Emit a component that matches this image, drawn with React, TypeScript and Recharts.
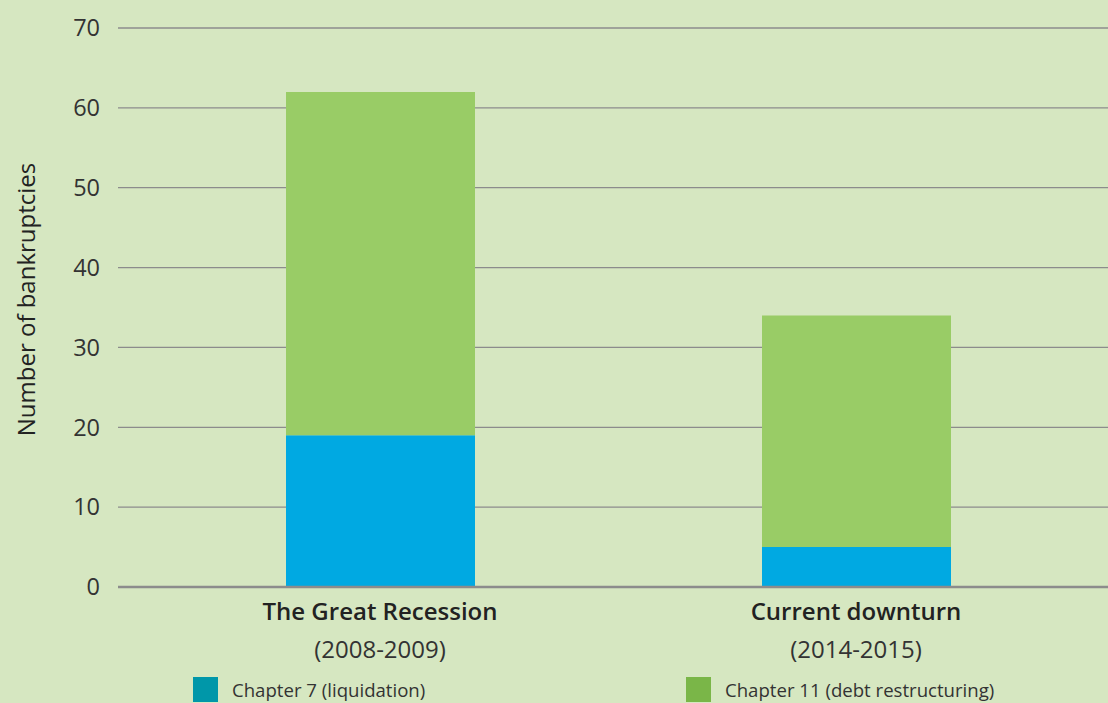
import React from 'react';
import { BarChart, Bar, XAxis, YAxis, CartesianGrid, Legend, Label } from 'recharts';

const categories = ['The Great Recession', 'Current downturn'];
const periods = ['(2008-2009)', '(2014-2015)'];
const chapter7 = [19, 5];
const chapter11 = [43, 29];
const yTicks = [0, 10, 20, 30, 40, 50, 60, 70];
const seriesKeys = ['ch7', 'ch11'];
const seriesNames = ['Chapter 7 (liquidation)', 'Chapter 11 (debt restructuring)'];

const BG = '#d6e7c1';
const BAR_COLORS = ['#00a9e2', '#99cc66'];
const LEGEND_COLORS = ['#0097a9', '#7ab648']; // swatches are darker than the bars
const FONT = '"Open Sans", sans-serif';

const data = categories.map((name, i) => ({
  name,
  ch7: chapter7[i],
  ch11: chapter11[i],
}));

const CategoryTick = (props: any) => {
  const { x, y, payload, index } = props;
  return (
    <g>
      <text x={x} y={y + 25} textAnchor="middle" fontFamily={FONT} fontSize={24} fontWeight={600} fill="#222">
        {payload.value}
      </text>
      <text x={x} y={y + 63} textAnchor="middle" fontFamily={FONT} fontSize={24} fill="#333">
        {periods[index]}
      </text>
    </g>
  );
};

const LegendContent = (props: any) => {
  // keep legend in series order (recharts reverses stacked items)
  const items = [...(props.payload || [])].sort(
    (a: any, b: any) => seriesKeys.indexOf(a.dataKey) - seriesKeys.indexOf(b.dataKey)
  );
  return (
    <div style={{ display: 'flex', paddingLeft: 193, fontFamily: FONT }}>
      {items.map((item: any, i: number) => (
        <div key={i} style={{ display: 'flex', alignItems: 'center', width: 493, flexShrink: 0 }}>
          <span style={{ display: 'inline-block', width: 25, height: 25, background: LEGEND_COLORS[i], marginRight: 14 }} />
          <span style={{ fontSize: 18.6, color: '#333' }}>{item.value}</span>
        </div>
      ))}
    </div>
  );
};

const YTitle = (props: any) => {
  const vb = props.viewBox || {};
  const cx = vb.x + 25;
  const cy = vb.y + vb.height / 2 - 8;
  return (
    <text
      x={cx}
      y={cy}
      transform={`rotate(-90, ${cx}, ${cy})`}
      textAnchor="middle"
      dominantBaseline="central"
      fontFamily={FONT}
      fontSize={24}
      fontWeight={500}
      fill="#222"
    >
      Number of bankruptcies
    </text>
  );
};

export default function App() {
  return (
    <div style={{ position: 'absolute', left: 0, top: 0, width: 1108, height: 703, background: BG, overflow: 'hidden' }}>
      <BarChart width={1108} height={703} data={data} margin={{ top: 28, right: 0, bottom: 0, left: 0 }}>
        <CartesianGrid vertical={false} stroke="#8c8c8c" strokeWidth={1.3} />
        <XAxis
          dataKey="name"
          height={116}
          padding={{ left: 24, right: 14 }}
          axisLine={{ stroke: '#8c8c8c', strokeWidth: 2.5 }}
          tickLine={false}
          tick={<CategoryTick />}
          interval={0}
        />
        <YAxis
          width={118}
          domain={[0, 70]}
          ticks={yTicks}
          axisLine={false}
          tickLine={false}
          tickSize={0}
          tickMargin={18}
          tick={{ fontFamily: FONT, fontSize: 23.5, fill: '#333' }}
        >
          <Label content={<YTitle />} />
        </YAxis>
        <Legend
          layout="horizontal"
          verticalAlign="middle"
          align="center"
          wrapperStyle={{ top: 677, left: 0, width: 1108 }}
          content={<LegendContent />}
        />
        <Bar dataKey="ch7" name={seriesNames[0]} stackId="a" fill={BAR_COLORS[0]} barSize={189} isAnimationActive={false} />
        <Bar dataKey="ch11" name={seriesNames[1]} stackId="a" fill={BAR_COLORS[1]} barSize={189} isAnimationActive={false} />
      </BarChart>
    </div>
  );
}
